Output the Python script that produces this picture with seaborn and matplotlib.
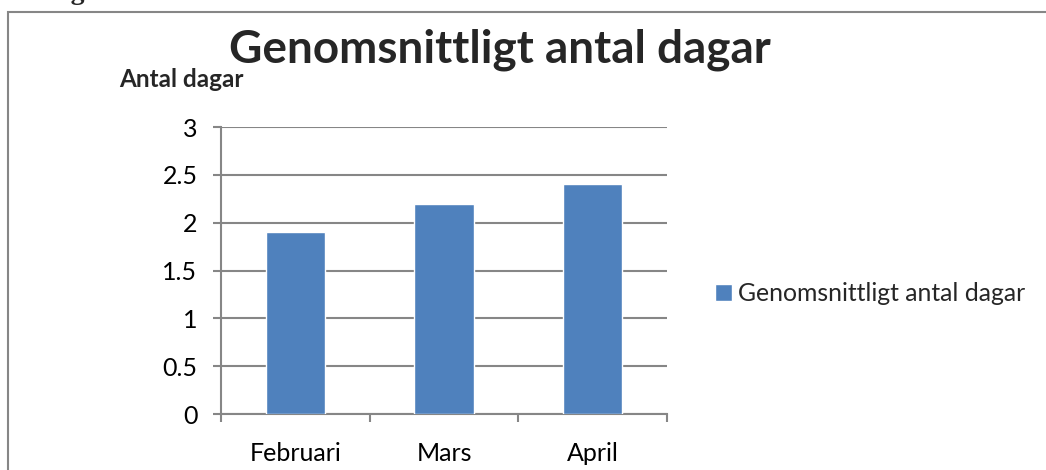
import numpy as np
import pandas as pd
import matplotlib
matplotlib.use('Agg')
import matplotlib.pyplot as plt
import seaborn as sns
from matplotlib.patches import Rectangle

months = ['Februari', 'Mars', 'April']
days = [1.9, 2.2, 2.4]
series_name = 'Genomsnittligt antal dagar'
y_ticks = [0, 0.5, 1, 1.5, 2, 2.5, 3]
y_tick_labels = ['0', '0.5', '1', '1.5', '2', '2.5', '3']

sns.set_theme(style='white')
plt.rcParams['font.family'] = ['Lato', 'DejaVu Sans']

grey = '#868686'
blue = '#4F81BD'

df = pd.DataFrame({'month': months, 'days': days})

fig = plt.figure(figsize=(10.46, 4.70), dpi=100)
ax = fig.add_axes([0.2113, 0.1191, 0.4264, 0.6106])

sns.barplot(data=df, x='month', y='days', color=blue, width=0.4,
            saturation=1, label=series_name, ax=ax, zorder=3)

ax.set_ylim(0, 3)
ax.set_xlim(-0.5, 2.5)
ax.set_yticks(y_ticks)
ax.set_yticklabels(y_tick_labels)
ax.yaxis.grid(True, color=grey, linewidth=1.5, zorder=0)
ax.set_axisbelow(True)
ax.set_xlabel('')
ax.set_ylabel('')

for s in ['top', 'right']:
    ax.spines[s].set_visible(False)
for s in ['left', 'bottom']:
    ax.spines[s].set_color(grey)
    ax.spines[s].set_linewidth(1.5)

ax.tick_params(axis='y', which='major', left=True, length=6, width=1.5,
               color=grey, pad=11, labelsize=18, labelcolor='black')
ax.tick_params(axis='x', which='major', bottom=False, length=0, pad=20,
               labelsize=18, labelcolor='black')
ax.set_xticks([-0.5, 0.5, 1.5, 2.5], minor=True)
ax.tick_params(axis='x', which='minor', bottom=True, length=6, width=1.5,
               color=grey)

leg = ax.legend(loc='center left', bbox_to_anchor=(715 / 1046, 0.376),
                bbox_transform=fig.transFigure, frameon=False,
                borderpad=0, borderaxespad=0,
                handlelength=0.69, handleheight=0.69, handletextpad=0.24,
                fontsize=17.8)

fig.text(0.478, 0.895, series_name, ha='center', va='center',
         fontsize=33, fontweight='bold')
fig.text(0.114, 0.83, 'Antal dagar', ha='left', va='center',
         fontsize=17.5, fontweight='bold')

# rest of a caption cut off above the frame
fig.text(0.028, 1 + 1 / 470, 'Diagram', ha='left', va='baseline', fontsize=20,
         fontweight='bold', family=['Liberation Serif', 'DejaVu Serif'])

frame = Rectangle((8 / 1046, -0.1), 1.2, 0.1 + 1 - 12 / 470,
                  transform=fig.transFigure, fill=False,
                  edgecolor=grey, linewidth=1.5)
fig.add_artist(frame)

fig.savefig('out.png', dpi=100, facecolor='white')
